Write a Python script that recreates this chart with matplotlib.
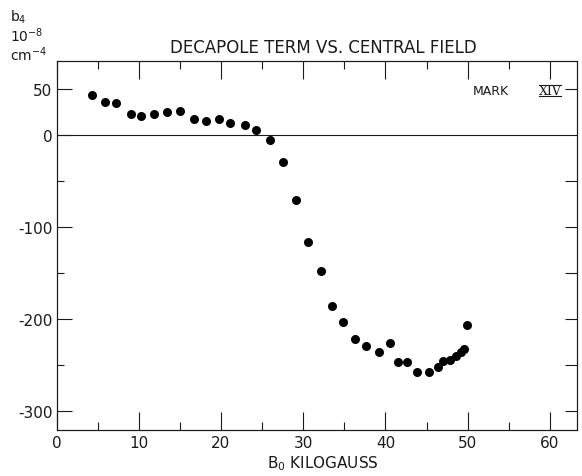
import matplotlib
matplotlib.use("Agg")
import matplotlib.pyplot as plt
from matplotlib.lines import Line2D

# ---- data ----
b0_kilogauss = [4.3, 5.9, 7.2, 9.0, 10.3, 11.9, 13.4, 15.0, 16.7, 18.2, 19.8, 21.1,
                22.9, 24.3, 26.0, 27.5, 29.1, 30.6, 32.2, 33.5, 34.9, 36.3, 37.6,
                39.2, 40.5, 41.5, 42.6, 43.8, 45.3, 46.4, 47.0, 47.8, 48.6, 49.2,
                49.6, 49.9]
b4_values = [43.2, 35.1, 34.9, 22.7, 20.3, 22.3, 24.6, 26.2, 17.0, 14.6, 17.6, 12.6,
             10.7, 5.4, -5.8, -29.8, -70.3, -116.5, -148.3, -185.3, -203.2, -221.6,
             -228.7, -235.5, -225.9, -246.2, -246.4, -257.1, -257.3, -252.3, -245.5,
             -244.9, -240.0, -235.8, -232.1, -206.8]

x_major = [0, 10, 20, 30, 40, 50, 60]
x_minor = [5, 15, 25, 35, 45, 55]
y_major = [50, 0, -100, -200, -300]
y_minor = [-50, -150, -250]
y_right = [50, -50, -100, -150, -200, -250, -300]

title = "DECAPOLE TERM VS. CENTRAL FIELD"
xlabel = r"B$_0$ KILOGAUSS"
ylabel_lines = [r"b$_4$", r"10$^{-8}$", r"cm$^{-4}$"]

plt.rcParams["font.family"] = ["DejaVu Sans"]
plt.rcParams["axes.unicode_minus"] = False
ink = "#1a1a1a"

W, H = 582, 477
fig = plt.figure(figsize=(W / 100, H / 100), dpi=100)
ax = fig.add_axes([56.5 / W, (H - 430.7) / H, (577 - 56.5) / W, (430.7 - 62) / H])

ax.plot(b0_kilogauss, b4_values, "o", color="black", ms=6.5, mew=0)
ax.axhline(0, color=ink, lw=0.8)

ax.set_xlim(0, 63.3)
ax.set_ylim(-320, 80)
ax.set_xticks(x_major)
ax.set_xticklabels([str(v) for v in x_major])
ax.set_xticks(x_minor, minor=True)
ax.set_yticks(y_major)
ax.set_yticklabels([str(v) for v in y_major])
ax.set_yticks(y_minor, minor=True)

ax.tick_params(which="both", direction="in", top=True, right=False,
               labelsize=11, width=0.8, color=ink, labelcolor=ink)
ax.tick_params(axis="x", which="major", length=13, pad=4)
ax.tick_params(axis="x", which="minor", length=6)
ax.tick_params(axis="y", which="major", length=11, pad=3)
ax.tick_params(axis="y", which="minor", length=5)
for s in ax.spines.values():
    s.set_linewidth(0.8)
    s.set_color(ink)

ax2 = ax.twinx()
ax2.set_ylim(ax.get_ylim())
ax2.set_yticks(y_right)
ax2.tick_params(direction="in", length=9, width=0.8, color=ink, labelright=False)
for s in ax2.spines.values():
    s.set_linewidth(0.8)
    s.set_color(ink)

# texts
fig.text(323.5 / W, 1 - 48 / H, title, ha="center", va="center", fontsize=12, color=ink)
fig.text(323 / W, 1 - 464 / H, xlabel, ha="center", va="center", fontsize=11, color=ink)
for i, line in enumerate(ylabel_lines):
    fig.text(10 / W, 1 - (17 + i * 19) / H, line, ha="left", va="center",
             fontsize=10, color=ink)

fig.text(473 / W, 1 - 91.5 / H, "MARK", ha="left", va="center", fontsize=9, color=ink)
fig.text(550 / W, 1 - 91.5 / H, "XIV", ha="center", va="center", fontsize=9,
         family="DejaVu Serif", color=ink)
for yy in (86.3, 97.0):
    fig.add_artist(Line2D([539 / W, 561 / W], [1 - yy / H, 1 - yy / H],
                          transform=fig.transFigure, color=ink, lw=0.8))

fig.savefig("out.png", dpi=100)
